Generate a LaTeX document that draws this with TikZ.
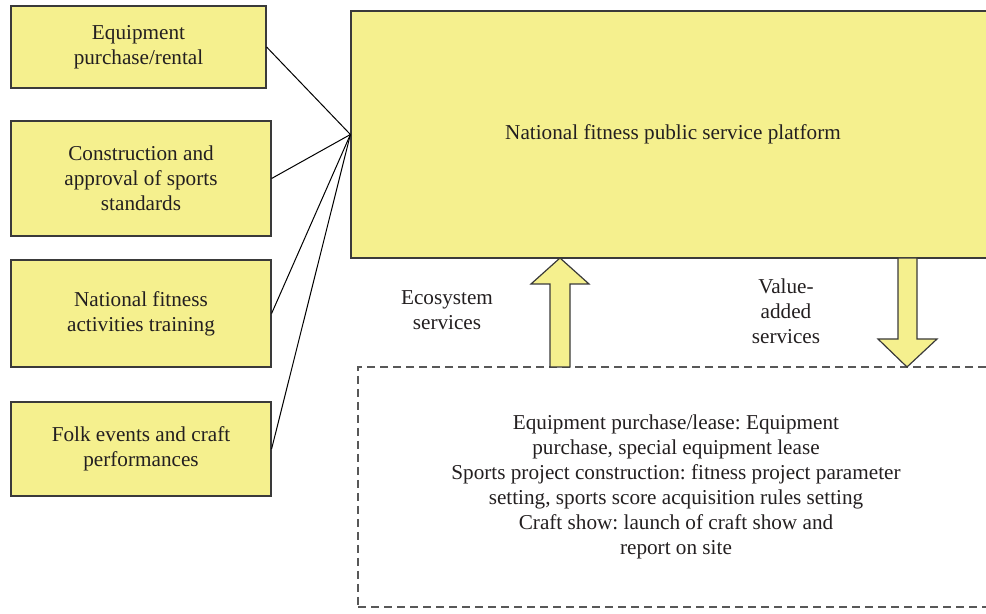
\documentclass[tikz,border=0pt]{standalone}
\usepackage{fontspec}
\setmainfont{Liberation Serif}
\frenchspacing
\definecolor{boxfill}{HTML}{F5F08E}
\definecolor{boxline}{HTML}{3A3A3A}
\definecolor{txt}{HTML}{231F20}
\tikzset{
  item/.style={draw=boxline, fill=boxfill, line width=0.6pt, align=center,
    text=txt, font=\fontsize{10.6}{12.5}\selectfont, inner sep=0pt},
  label/.style={align=center, text=txt, font=\fontsize{10.6}{12.5}\selectfont},
  blockarrow/.style={draw=boxline, fill=boxfill, line width=0.6pt, line join=miter}
}
\begin{document}
\begin{tikzpicture}[x=0.5pt, y=-0.5pt]
  \useasboundingbox (0,0) rectangle (986,614);
  \node[item, minimum width=127.5pt, minimum height=41pt] (equip) at (138.5,47) {Equipment\\purchase/rental};
  \node[item, minimum width=130pt, minimum height=57.5pt] (constr) at (141,178.5) {Construction and\\approval of sports\\standards};
  \node[item, minimum width=130pt, minimum height=53.5pt] (train) at (141,313.5) {National fitness\\activities training};
  \node[item, minimum width=130pt, minimum height=47pt] (folk) at (141,449) {Folk events and craft\\performances};
  \node[item, minimum width=322pt, minimum height=123.5pt] (platform) at (673,134.5) {National fitness public service platform};
  \node[label, draw=boxline!85, dash pattern=on 4pt off 2.5pt, line width=0.6pt,
    minimum width=318pt, minimum height=120pt] (detail) at (676,487)
    {Equipment purchase/lease: Equipment\\purchase, special equipment lease\\Sports project construction: fitness project parameter\\setting, sports score acquisition rules setting\\Craft show: launch of craft show and\\report on site};
  \foreach \b in {equip, constr, train, folk}
    \draw[line width=0.5pt] (\b.east) -- (platform.west);
  \draw[blockarrow] (550,367) -- (550,284) -- (531,284) -- (560,258) -- (589,284) -- (570,284) -- (570,367) -- cycle;
  \draw[blockarrow] (898,258) -- (898,339) -- (878,339) -- (907,367) -- (937,339) -- (917,339) -- (917,258) -- cycle;
  \node[label] (eco) at (447,310.5) {Ecosystem\\services};
  \node[label] (value) at (786,311) {Value-\\added\\services};
\end{tikzpicture}
\end{document}
